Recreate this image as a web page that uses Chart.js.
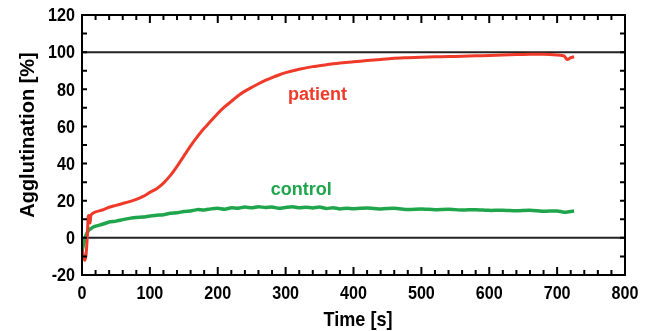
<!DOCTYPE html>
<html><head><meta charset="utf-8">
<script src="https://cdn.jsdelivr.net/npm/chart.js@4"></script>
<style>html,body{margin:0;padding:0;background:#fff}#wrap{width:647px;height:331px}</style>
</head><body><div id="wrap"><canvas id="c" width="647" height="331"></canvas></div>
<script>
const xTickLabels = ['0','100','200','300','400','500','600','700','800'];
const yTickLabels = ['-20','0','20','40','60','80','100','120'];
const patientT = [0,2,4,6,8,9,10,12,13,15,20,30,40,50,60,70,80,90,100,110,120,130,140,150,160,170,180,190,200,210,220,230,240,250,260,270,280,290,300,320,340,360,380,400,420,440,460,480,500,520,540,560,580,600,620,640,660,680,700,710,715,720,725];
const patientV = [-6,-10,-12,-9,2,11,12,8,12,13,14,15,16.5,17.5,18.5,19.5,20.7,22.3,24.5,26.5,29.5,33.5,38.5,44,49.5,54.5,59,63,67,70.5,73.5,76.5,79,81,83,84.8,86.3,87.7,89,90.8,92.2,93.2,94.2,94.8,95.5,96,96.7,97,97.3,97.5,97.6,97.8,98,98.2,98.5,98.7,98.8,98.9,98.5,98,96,97,97.5];
const controlT = [0,2,4,6,8,10,15,20,30,40,50,60,70,80,90,100,110,120,130,140,150,160,170,180,190,200,210,220,230,240,250,260,270,280,290,300,310,320,330,340,350,360,370,380,390,400,420,440,460,480,500,520,540,560,580,600,620,640,660,680,700,710,720,725];
const controlV = [-7,-4,-1,1.5,3,4.2,5.5,6.3,7.3,8.5,9,9.8,10.5,11,11.2,11.8,12.2,12.5,13.2,13.5,14.2,14.5,15.2,15,15.6,15.9,15.4,16.2,16,16.6,16.2,16.8,16.3,16.6,15.9,16.4,16.8,16.2,16.5,16.1,16.6,15.8,16.2,15.6,16,15.7,16.1,15.6,15.9,15.3,15.5,15.2,15.4,15,15.2,14.8,14.9,14.6,14.8,14.3,14.5,13.8,14.2,14.4];
const seriesNames = ['patient','control'];
const seriesColors = ['#ef3a2a','#1fa64c'];
const labelPos = [[347,77],[323,25.8]];

const SANS = '"Liberation Sans",Arial,sans-serif';
const toXY = (t,v)=>t.map((x,i)=>({x:x,y:v[i]}));

function narrowText(ctx,txt,px,py,sx){
  ctx.save(); ctx.translate(px,py); ctx.scale(sx,1); ctx.fillText(txt,0,0); ctx.restore();
}

const decor = {
  id:'decor',
  beforeDatasetsDraw(chart){
    const {ctx, chartArea:a, scales:{x,y}} = chart;
    ctx.save();
    ctx.strokeStyle='#222'; ctx.lineWidth=2;
    [0,100].forEach(v=>{const py=y.getPixelForValue(v);ctx.beginPath();ctx.moveTo(a.left,py);ctx.lineTo(a.right,py);ctx.stroke();});
    ctx.restore();
  },
  afterDraw(chart){
    const {ctx, chartArea:a, scales:{x,y}} = chart;
    ctx.save();
    ctx.strokeStyle='#000'; ctx.lineWidth=2;
    ctx.strokeRect(a.left,a.top,a.right-a.left,a.bottom-a.top);
    ctx.beginPath();
    for(let v=0;v<=800;v+=20){
      const px=x.getPixelForValue(v); const L=(v%100===0)?8:5;
      ctx.moveTo(px,a.bottom);ctx.lineTo(px,a.bottom-L);
      ctx.moveTo(px,a.top);ctx.lineTo(px,a.top+L);
    }
    for(let v=-20;v<=120;v+=10){
      const py=y.getPixelForValue(v); const L=5;
      ctx.moveTo(a.left,py);ctx.lineTo(a.left+L,py);
      ctx.moveTo(a.right,py);ctx.lineTo(a.right-L,py);
    }
    ctx.stroke();
    ctx.fillStyle='#000';
    ctx.font='bold 19px '+SANS;
    ctx.textBaseline='middle';
    ctx.textAlign='center';
    xTickLabels.forEach(t=>narrowText(ctx,t,x.getPixelForValue(+t),a.bottom+19,0.85));
    ctx.textAlign='right';
    yTickLabels.forEach(t=>narrowText(ctx,t,a.left-7,y.getPixelForValue(+t)+1,0.85));
    ctx.textAlign='center';
    ctx.font='bold 18px '+SANS;
    seriesNames.forEach((n,i)=>{ctx.fillStyle=seriesColors[i];ctx.fillText(n,x.getPixelForValue(labelPos[i][0]),y.getPixelForValue(labelPos[i][1]));});
    ctx.fillStyle='#000';
    ctx.font='bold 21px '+SANS;
    narrowText(ctx,'Time [s]',358,320,0.86);
    ctx.translate(28,135); ctx.rotate(-Math.PI/2);
    ctx.font='bold 20px '+SANS;
    ctx.fillText('Agglutination [%]',0,0);
    ctx.restore();
  }
};

new Chart(document.getElementById('c'),{
  type:'scatter',
  data:{datasets:[
    {label:seriesNames[0],data:toXY(patientT,patientV),showLine:true,borderColor:seriesColors[0],borderWidth:3,pointRadius:0,tension:0.2,fill:false},
    {label:seriesNames[1],data:toXY(controlT,controlV),showLine:true,borderColor:seriesColors[1],borderWidth:3.5,pointRadius:0,tension:0.2,fill:false}
  ]},
  options:{
    responsive:false,animation:false,devicePixelRatio:1,
    layout:{padding:{left:82,right:22,top:15,bottom:56}},
    plugins:{legend:{display:false},tooltip:{enabled:false}},
    scales:{
      x:{type:'linear',min:0,max:800,display:false},
      y:{type:'linear',min:-20,max:120,display:false}
    }
  },
  plugins:[decor]
});
</script></body></html>
